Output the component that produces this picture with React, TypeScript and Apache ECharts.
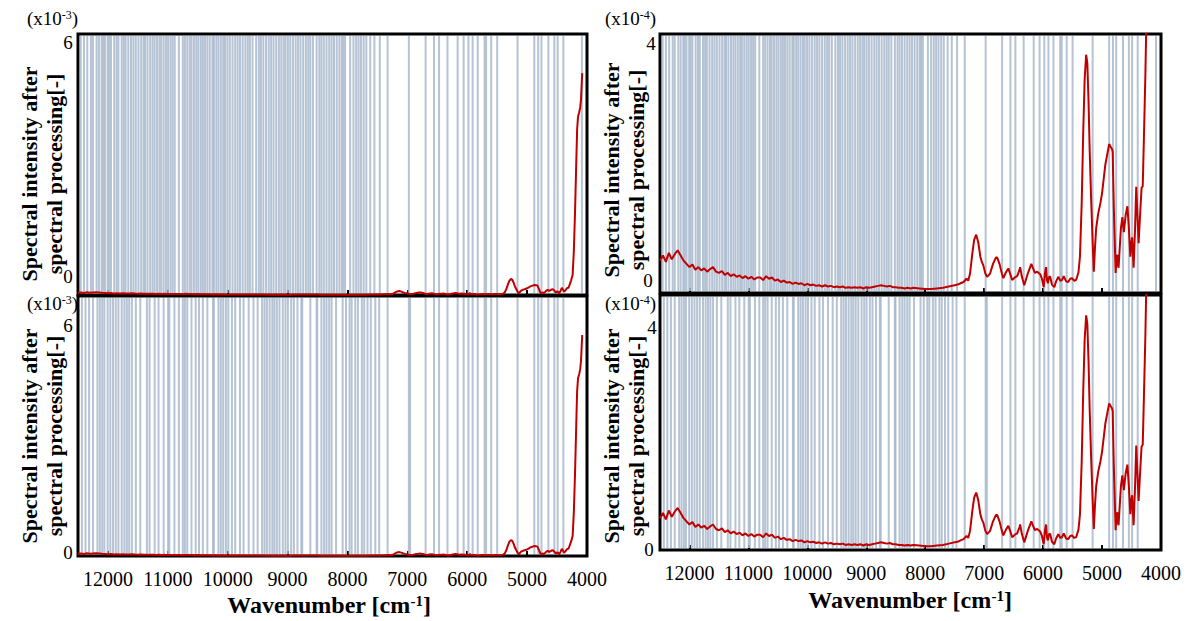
import React, { useEffect, useRef } from "react";
import * as echarts from "echarts";

// Spectrum (wavenumber in cm-1, intensity in units of 1e-4)
const wavenumbers = [
  12500, 12450, 12400, 12350, 12300, 12250, 12200, 12150, 12100, 12050, 12000, 11950, 11900, 11850, 11800, 11750,
  11700, 11650, 11600, 11550, 11500, 11450, 11400, 11350, 11300, 11250, 11200, 11150, 11100, 11050, 11000, 10950,
  10900, 10850, 10800, 10750, 10700, 10650, 10600, 10550, 10500, 10450, 10400, 10350, 10300, 10250, 10200, 10150,
  10100, 10050, 10000, 9950, 9900, 9850, 9800, 9750, 9700, 9650, 9600, 9550, 9500, 9450, 9400, 9350, 9300, 9250,
  9200, 9150, 9100, 9050, 9000, 8950, 8900, 8850, 8800, 8750, 8700, 8650, 8600, 8550, 8500, 8450, 8400, 8350, 8300,
  8250, 8200, 8100, 8000, 7900, 7800, 7700, 7600, 7500, 7450, 7400, 7350, 7300, 7270, 7240, 7200, 7170, 7135, 7100,
  7065, 7040, 7015, 6980, 6950, 6900, 6850, 6800, 6780, 6740, 6700, 6675, 6630, 6590, 6560, 6525, 6480, 6440, 6400,
  6390, 6360, 6320, 6260, 6200, 6170, 6140, 6100, 6050, 6020, 5990, 5970, 5950, 5935, 5920, 5900, 5880, 5850, 5810,
  5780, 5740, 5710, 5680, 5650, 5610, 5575, 5540, 5510, 5475, 5440, 5400, 5375, 5345, 5320, 5295, 5270, 5250, 5230,
  5210, 5185, 5160, 5140, 5120, 5100, 5065, 5030, 5000, 4970, 4945, 4910, 4880, 4850, 4830, 4820, 4800, 4770, 4755,
  4740, 4730, 4720, 4700, 4680, 4655, 4630, 4600, 4570, 4545, 4520, 4505, 4490, 4465, 4440, 4420, 4400, 4380, 4355,
  4330, 4310, 4290, 4265, 4240, 4220, 4200, 4180, 4165, 4150, 4130, 4115, 4100, 4090, 4080, 4075,
];
const intensityE4 = [
  0.5, 0.58, 0.48, 0.62, 0.52, 0.6, 0.66, 0.58, 0.5, 0.45, 0.4, 0.44, 0.36, 0.4, 0.35, 0.38,
  0.33, 0.37, 0.4, 0.33, 0.31, 0.34, 0.28, 0.31, 0.26, 0.29, 0.25, 0.27, 0.23, 0.26, 0.22, 0.25,
  0.21, 0.24, 0.24, 0.2, 0.26, 0.22, 0.24, 0.19, 0.21, 0.17, 0.19, 0.16, 0.17, 0.14, 0.16, 0.14,
  0.15, 0.12, 0.14, 0.12, 0.13, 0.11, 0.12, 0.1, 0.12, 0.1, 0.11, 0.09, 0.1, 0.09, 0.1, 0.08, 0.09, 0.08,
  0.09, 0.08, 0.09, 0.07, 0.09, 0.08, 0.09, 0.1, 0.11, 0.12, 0.11, 0.1, 0.11, 0.09, 0.09, 0.08, 0.08, 0.07, 0.08,
  0.07, 0.08, 0.07, 0.06, 0.06, 0.07, 0.08, 0.1, 0.12, 0.13, 0.15, 0.17, 0.22, 0.19, 0.3, 0.62, 0.82, 0.9, 0.78,
  0.56, 0.48, 0.43, 0.3, 0.25, 0.3, 0.45, 0.55, 0.55, 0.45, 0.3, 0.23, 0.32, 0.38, 0.3, 0.2, 0.24, 0.26, 0.36,
  0.4, 0.25, 0.12, 0.3, 0.45, 0.38, 0.31, 0.33, 0.29, 0.22, 0.09, 0.3, 0.4, 0.2, 0.15, 0.25, 0.25, 0.13, 0.09,
  0.18, 0.25, 0.19, 0.2, 0.26, 0.18, 0.17, 0.22, 0.23, 0.19, 0.2, 0.32, 0.56, 1.4, 2.47, 3.3, 3.68, 3.55, 2.98,
  2.2, 1.44, 0.8, 0.33, 0.7, 1.0, 1.23, 1.38, 1.54, 1.78, 1.98, 2.15, 2.3, 2.25, 2.22, 2.18, 1.3, 0.31, 0.55,
  0.59, 0.42, 0.39, 0.7, 1.0, 1.17, 0.94, 1.2, 1.34, 1.0, 0.56, 0.75, 0.86, 0.39, 1.0, 1.64, 1.2, 0.77, 1.2,
  1.62, 1.65, 2.39, 3.37, 4.6, 10, 19, 30, 38, 41, 42, 43, 45, 48, 51, 51,
];

// Selected-wavenumber markers (cm-1)
const topLines = [
  12455, 12400, 12345, 12285, 12250, 12190, 12150, 12105, 12080, 12050, 12005, 11980, 11950, 11895, 11855, 11825,
  11770, 11735, 11705, 11660, 11615, 11575, 11535, 11490, 11445, 11405, 11380, 11340, 11295, 11255, 11220, 11180,
  11140, 11110, 11070, 11030, 10995, 10955, 10920, 10885, 10815, 10750, 10715, 10675, 10635, 10605, 10565, 10525,
  10490, 10450, 10415, 10380, 10340, 10300, 10255, 10230, 10190, 10155, 10115, 10075, 10045, 10005, 9965, 9920,
  9875, 9835, 9795, 9750, 9705, 9665, 9630, 9585, 9525, 9480, 9445, 9405, 9360, 9315, 9275, 9235, 9190, 9145,
  9105, 9065, 9035, 8995, 8955, 8910, 8865, 8825, 8785, 8740, 8695, 8655, 8620, 8575, 8515, 8470, 8435, 8395,
  8350, 8305, 8265, 8225, 8180, 8135, 8095, 8070, 8040, 7955, 7900, 7855, 7815, 7775, 7730, 7685, 7620, 7550,
  7460, 7330, 6975, 6695, 6555, 6470, 6330, 6160, 6060, 5980, 5910, 5825, 5710, 5685, 5600, 5500, 5160, 4880,
  4815, 4760, 4645, 4545, 4490, 4395, 4085,
];
const bottomLines = [
  12435, 12375, 12315, 12250, 12175, 12135, 12095, 12060, 12005, 11960, 11915, 11870, 11825, 11770, 11725, 11685,
  11645, 11600, 11535, 11460, 11350, 11305, 11220, 11155, 11070, 10995, 10975, 10890, 10815, 10750, 10715, 10675,
  10605, 10535, 10480, 10415, 10340, 10245, 10230, 10155, 10115, 10075, 10030, 9990, 9930, 9875, 9795, 9735,
  9650, 9570, 9500, 9425, 9385, 9345, 9300, 9255, 9220, 9180, 9135, 9080, 9035, 8995, 8940, 8895, 8835, 8770,
  8755, 8620, 8515, 8505, 8435, 8390, 8350, 8305, 8265, 8190, 8080, 8025, 7965, 7930, 7870, 7825, 7760, 7720,
  7665, 7610, 7535, 7470, 7330, 6975, 6955, 6695, 6555, 6470, 6330, 6160, 6060, 5980, 5910, 5825, 5710, 5685,
  5600, 5500, 5160, 4880, 4815, 4760, 4645, 4545, 4490, 4395,
];

const xTicks = [12000, 11000, 10000, 9000, 8000, 7000, 6000, 5000, 4000];
const leftYMax = 60; // 6 x 10^-3
const rightYMax = 4; // 4 x 10^-4

const SERIF = "'Liberation Serif', 'Times New Roman', serif";
const RED = "#c00000";
const LINE_BLUE = "#a8b8cd";

export default function App() {
  const ref = useRef<HTMLDivElement>(null);

  useEffect(() => {
    if (!ref.current) return;
    const chart = echarts.init(ref.current, null, { renderer: "svg" });
    const spectrum = wavenumbers.map((w, i) => [w, intensityE4[i]]);

    const grids = [
      { left: 78, top: 34, width: 509, height: 261 },
      { left: 78, top: 296, width: 509, height: 260 },
      { left: 660, top: 34, width: 501, height: 259 },
      { left: 660, top: 295, width: 501, height: 255 },
    ].map((g) => ({ ...g, show: true, borderColor: "#000", borderWidth: 3, backgroundColor: "transparent" }));

    const showLabels = [false, true, false, true];
    const xAxes = grids.map((_, i) => ({
      type: "value",
      gridIndex: i,
      min: 4000,
      max: 12500,
      interval: 1000,
      inverse: true,
      axisLine: { show: false },
      splitLine: { show: false },
      axisTick: { show: true, inside: true, length: 5, lineStyle: { color: "#000", width: 2 } },
      axisLabel: {
        show: showLabels[i],
        showMaxLabel: false,
        margin: 13,
        fontFamily: SERIF,
        fontSize: 20,
        color: "#000",
        formatter: (v: number) => (xTicks.includes(v) ? String(v) : ""),
      },
    }));
    const yMax = [leftYMax, leftYMax, rightYMax, rightYMax];
    const yAxes = grids.map((_, i) => ({
      type: "value",
      gridIndex: i,
      min: 0,
      max: yMax[i],
      axisLine: { show: false },
      axisTick: { show: false },
      axisLabel: { show: false },
      splitLine: { show: false },
    }));

    const lineSets = [topLines, bottomLines, topLines, bottomLines];
    const markerSeries = lineSets.map((set, i) => ({
      type: "custom",
      xAxisIndex: i,
      yAxisIndex: i,
      silent: true,
      z: 1,
      data: set.map((v) => [v, 0]),
      encode: { x: 0, y: 1 },
      renderItem: (params: any, api: any) => {
        const cs = params.coordSys;
        const x = api.coord([api.value(0), 0])[0];
        return {
          type: "line",
          shape: { x1: x, y1: cs.y + 2, x2: x, y2: cs.y + cs.height - 2 },
          style: { stroke: LINE_BLUE, lineWidth: 2, opacity: 0.85 },
        };
      },
    }));
    const spectrumSeries = grids.map((_, i) => ({
      type: "line",
      xAxisIndex: i,
      yAxisIndex: i,
      data: spectrum,
      showSymbol: false,
      symbol: "none",
      clip: true,
      z: 3,
      lineStyle: { color: RED, width: 2 },
    }));

    const sup = { fontSize: 12, fontFamily: SERIF, fill: "#000", verticalAlign: "top", lineHeight: 12 };
    const scaleText = (x: number, y: number, exp: string) => ({
      type: "text",
      x,
      y,
      style: {
        text: "(x10{sup|" + exp + "})",
        font: "19px " + SERIF,
        fill: "#000",
        align: "left",
        verticalAlign: "middle",
        rich: { sup },
      },
    });
    const tickText = (x: number, y: number, t: string) => ({
      type: "text",
      x,
      y,
      style: { text: t, font: "19px " + SERIF, fill: "#000", align: "center", verticalAlign: "middle" },
    });
    const yTitle = (x: number, y: number, t: string) => ({
      type: "text",
      x,
      y,
      rotation: Math.PI / 2,
      style: { text: t, font: "bold 22px " + SERIF, fill: "#000", align: "center", verticalAlign: "middle" },
    });
    const xTitle = (x: number, y: number) => ({
      type: "text",
      x,
      y,
      style: {
        text: "Wavenumber [cm{sup|-1}]",
        font: "bold 24px " + SERIF,
        fill: "#000",
        align: "center",
        verticalAlign: "middle",
        rich: { sup: { fontSize: 15, fontWeight: "bold", fontFamily: SERIF, verticalAlign: "top", lineHeight: 14 } },
      },
    });

    chart.setOption({
      animation: false,
      backgroundColor: "#fff",
      grid: grids,
      xAxis: xAxes,
      yAxis: yAxes,
      series: [...markerSeries, ...spectrumSeries],
      graphic: [
        scaleText(27, 18, "-3"),
        scaleText(27, 303, "-3"),
        scaleText(605, 18, "-4"),
        scaleText(605, 303, "-4"),
        tickText(68, 42, "6"),
        tickText(68, 276, "0"),
        tickText(68, 325, "6"),
        tickText(68, 552, "0"),
        tickText(651, 43, "4"),
        tickText(648, 280, "0"),
        tickText(652, 327, "4"),
        tickText(649, 549, "0"),
        yTitle(29, 174, "Spectral intensity after"),
        yTitle(54, 174, "spectral processing[-]"),
        yTitle(29, 436, "Spectral intensity after"),
        yTitle(54, 436, "spectral processing[-]"),
        yTitle(611, 170, "Spectral intensity after"),
        yTitle(636, 170, "spectral processing[-]"),
        yTitle(611, 436, "Spectral intensity after"),
        yTitle(636, 436, "spectral processing[-]"),
        xTitle(329, 605),
        xTitle(910, 600),
      ],
    });
    return () => chart.dispose();
  }, []);

  return (
    <div
      ref={ref}
      style={{ position: "fixed", left: 0, top: 0, width: 1189, height: 621, background: "#fff" }}
    />
  );
}
